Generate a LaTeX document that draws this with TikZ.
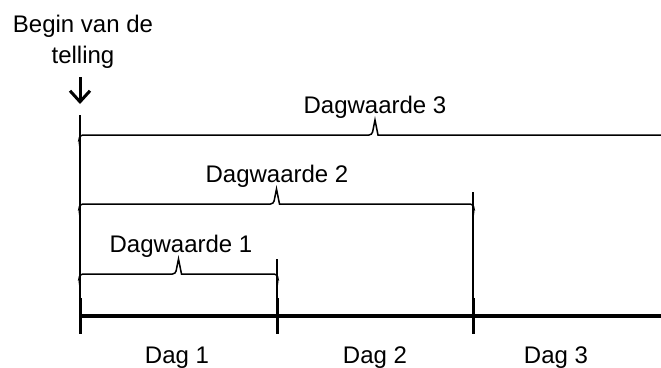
\documentclass[tikz,border=0pt]{standalone}
\usepackage{fontspec}
\setmainfont{Liberation Sans}
\usetikzlibrary{arrows.meta, positioning}

\begin{document}
\begin{tikzpicture}[x=1pt, y=-1pt, >={Straight Barb[length=11pt,width=20pt,line width=3pt]},
    lbl/.style={font=\fontsize{24}{31}\selectfont, inner sep=0pt, align=center, anchor=base},
    accol/.style={line width=1.5pt, rounded corners=3pt}]
    \useasboundingbox (0,0) rectangle (661,367);
    \clip (0,0) rectangle (661,367);

    \coordinate (t0) at (80,316);
    \coordinate (t1) at (277,316);
    \coordinate (t2) at (473,316);
    \coordinate (tE) at (661,316);

    \draw[line width=4.5pt] (t0) -- (tE);
    \foreach \t in {t0,t1,t2}
        \draw[line width=3pt] ([yshift=18pt]\t) -- ([yshift=-18pt]\t);

    \node[lbl] (dag1) at (177,363) {Dag 1};
    \node[lbl] (dag2) at (375,363) {Dag 2};
    \node[lbl] (dag3) at (556,363) {Dag 3};

    \coordinate (v0) at (80,115);
    \coordinate (v1) at (277,259);
    \coordinate (v2) at (473,192);
    \draw[line width=1.3pt] (v0) -- (t0);
    \draw[line width=1.3pt] (v1) -- (t1);
    \draw[line width=1.3pt] (v2) -- (t2);

    % accolades
    \foreach \xa/\xb/\yy in {80/277/274, 80/473/204, 80/670/135} {
        \pgfmathsetmacro{\xm}{(\xa+\xb)/2}
        \draw[accol] (\xa,\yy+13) -- (\xa-1,\yy+5) -- (\xa,\yy) -- (\xm-3,\yy)
            [sharp corners] -- (\xm,\yy-15) -- (\xm+3,\yy)
            [rounded corners=3pt] -- (\xb,\yy) -- (\xb+1,\yy+5) -- (\xb,\yy+13);
    }

    \node[lbl] (dw1) at (181,252) {Dagwaarde 1};
    \node[lbl] (dw2) at (277,182) {Dagwaarde 2};
    \node[lbl] (dw3) at (375,113) {Dagwaarde 3};

    \node[lbl] (begin) at (83,63) {Begin van de\\telling};
    \coordinate (pijl) at (80,77);
    \coordinate (pijlpunt) at (80,104);
    \draw[->, line width=3pt] (pijl) -- (pijlpunt);
\end{tikzpicture}
\end{document}
